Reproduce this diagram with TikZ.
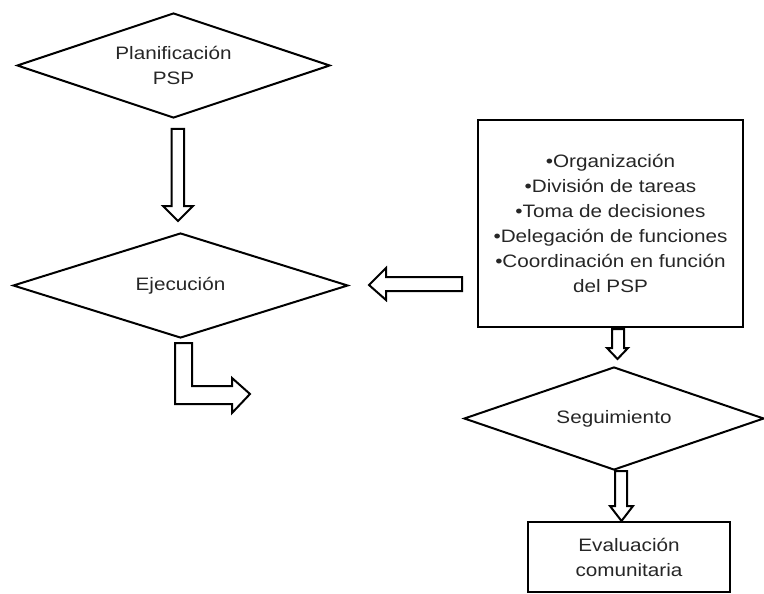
\documentclass[tikz,border=0pt]{standalone}
\usepackage{fontspec}
\setmainfont{Liberation Sans}[FakeStretch=1.15]
\usetikzlibrary{shapes.geometric,calc}
\tikzset{
    decision/.style={diamond, draw, line width=2pt, inner sep=0pt, aspect=3, align=center, text=black!85},
    caja/.style={rectangle, draw, line width=2pt, inner sep=0pt, align=center, text=black!85},
    flecha/.style={draw, fill=white, line width=2pt, line join=miter}
}
\begin{document}
\begin{tikzpicture}[x=1pt,y=-1pt]
    \useasboundingbox (0,0) rectangle (764,594);
    \fontsize{18}{25}\selectfont
    \node[decision, minimum width=313pt, minimum height=105pt] (plan) at (173.5,65.5) {Planificación\\PSP};
    \node[decision, minimum width=335pt, minimum height=105pt] (ejec) at (180.5,285.5) {Ejecución};
    \node[caja, minimum width=265pt, minimum height=207pt] (lista) at (610.5,223.5) {%
        •Organización\\•División de tareas\\•Toma de decisiones\\•Delegación de funciones\\•Coordinación en función\\del PSP};
    \node[decision, minimum width=300pt, minimum height=103pt] (seg) at (614,418.5) {Seguimiento};
    \node[caja, minimum width=202pt, minimum height=70pt] (eval) at (629,557) {Evaluación\\comunitaria};
    % flechas huecas
    \draw[flecha] ($(plan.south)+(-2,10)$) -- ++(12.5,0) -- ++(0,77) -- ++(9,0) -- ++(-15,15) -- ++(-15,-15) -- ++(8.5,0) -- cycle;
    \draw[flecha] ($(ejec.south)+(-5.5,4)$) -- ++(17,0) -- ++(0,43) -- ++(40,0) -- ++(0,-8) -- ++(18,16) -- ++(-18,19) -- ++(0,-9) -- ++(-57,0) -- cycle;
    \draw[flecha] ($(lista.west)+(-15,53.5)$) -- ++(0,14) -- ++(-76,0) -- ++(0,9) -- ++(-17,-15) -- ++(17,-17) -- ++(0,9) -- cycle;
    \draw[flecha] ($(lista.south)+(1.5,1)$) -- ++(12,0) -- ++(0,19) -- ++(4,0) -- ++(-10.5,11) -- ++(-10.5,-11) -- ++(5,0) -- cycle;
    \draw[flecha] ($(seg.south)+(1,0)$) -- ++(12,0) -- ++(0,35) -- ++(6,0) -- ++(-11.5,15) -- ++(-11.5,-15) -- ++(5,0) -- cycle;
\end{tikzpicture}
\end{document}
